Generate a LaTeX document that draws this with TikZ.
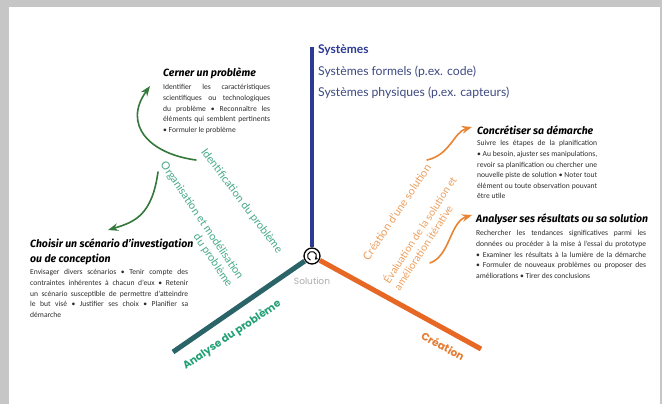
\documentclass[tikz,border=0pt]{standalone}
\usepackage{fontspec}
\setmainfont{Carlito}
\newfontfamily\headfont{Fira Sans}
\newfontfamily\axisfont{Poppins}
\newfontfamily\sysfont{Lato}
\usetikzlibrary{positioning,arrows.meta}

\definecolor{sysblue}{RGB}{44,58,148}
\definecolor{sysgray}{RGB}{62,74,130}
\definecolor{tealline}{RGB}{42,100,104}
\definecolor{tealtext}{RGB}{36,160,118}
\definecolor{greenlbl}{RGB}{70,170,135}
\definecolor{greenarr}{RGB}{52,120,60}
\definecolor{orline}{RGB}{230,104,36}
\definecolor{ortext}{RGB}{228,124,52}
\definecolor{orlbl}{RGB}{236,160,95}
\definecolor{orarr}{RGB}{232,132,50}
\definecolor{bodytext}{RGB}{45,45,45}

\begin{document}
\begin{tikzpicture}[x=1pt, y=-1pt, >=Stealth,
    headtext/.style={inner sep=0, anchor=north west, align=left,
      font=\headfont\bfseries\itshape\fontsize{10.5}{15}\selectfont},
    body/.style={inner sep=0, anchor=north west, align=justify, text=bodytext,
      font=\fontsize{7.6}{10.6}\selectfont},
    sysline/.style={inner sep=0, anchor=base west, text=sysgray,
      font=\sysfont\fontsize{12.2}{14}\selectfont},
    axislbl/.style={inner sep=0, font=\axisfont\bfseries\fontsize{10.5}{12}\selectfont},
    phase/.style={inner sep=0, font=\sysfont\fontsize{11}{13}\selectfont},
    axisline/.style={line width=5pt},
    curvarrow/.style={->, line width=1.6pt, line cap=round}]

  % page and shadow
  \fill[gray!45] (0,0) rectangle (662,404);
  \fill[white] (9,7) rectangle (660,404);
  \useasboundingbox (0,0) rectangle (662,404);

  % text blocks
  \node[headtext] (cerner) at (163,68) {Cerner un problème};
  \node[body, text width=107pt, below=5pt of cerner.south west, anchor=north west] (cernertxt)
    {Identifier les caractéristiques\linebreak scientifiques ou technologiques\linebreak
     du problème • Reconnaître les\linebreak éléments qui semblent pertinents\linebreak
     • Formuler le problème};

  \node[headtext] (choisir) at (30,239) {Choisir un scénario d’investigation\\ou de conception};
  \node[body, text width=158pt, below=4pt of choisir.south west, anchor=north west] (choisirtxt)
    {Envisager divers scénarios • Tenir compte des\linebreak contraintes inhérentes à chacun d’eux • Retenir\linebreak
     un scénario susceptible de permettre d’atteindre\linebreak le but visé • Justifier ses choix • Planifier sa\linebreak
     démarche};

  \node[headtext] (concret) at (477,126) {Concrétiser sa démarche};
  \node[body, text width=120pt, below=5pt of concret.south west, anchor=north west] (concrettxt)
    {Suivre les étapes de la planification\linebreak • Au besoin, ajuster ses manipulations,\linebreak
     revoir sa planification ou chercher une\linebreak nouvelle piste de solution • Noter tout\linebreak
     élément ou toute observation pouvant\linebreak être utile};

  \node[headtext] (analyser) at (476,214) {Analyser ses résultats ou sa solution};
  \node[body, text width=170pt, below=5pt of analyser.south west, anchor=north west] (analysertxt)
    {Rechercher les tendances significatives parmi les\linebreak données ou procéder à la mise à l’essai du prototype\linebreak
     • Examiner les résultats à la lumière de la démarche\linebreak • Formuler de nouveaux problèmes ou proposer des\linebreak
     améliorations • Tirer des conclusions};

  % systems
  \node[sysline, text=sysblue, font=\sysfont\bfseries\fontsize{12}{14}\selectfont] (sys) at (318,54) {Systèmes};
  \node[sysline] (sysform) at (318,76) {Systèmes formels (p.ex. code)};
  \node[sysline] (sysphys) at (318,97) {Systèmes physiques (p.ex. capteurs)};

  % hub and axes
  \node[circle, draw, line width=1.3pt, minimum size=16pt, inner sep=0, outer sep=1pt] (hub) at (312,256) {};
  \draw[line width=1pt, -{Stealth[length=3pt,width=4pt]}] (hub.center) ++(110:4.5)
    arc[start angle=110, end angle=410, radius=4.5];
  \node[inner sep=0, text=gray!65, font=\axisfont\fontsize{9}{11}\selectfont, below=12pt of hub] (sol) {Solution};

  \coordinate (systop) at (312,47);
  \coordinate (anaend) at (173,352);
  \coordinate (creend) at (481,349);
  \draw[axisline, sysblue, line width=4pt] (systop) -- (hub);
  \draw[axisline, tealline] (hub) -- (anaend);
  \draw[axisline, orline] (hub) -- (creend);

  \node[axislbl, text=tealtext, rotate=34] (ana) at (232,335) {Analyse du problème};
  \node[axislbl, text=ortext, rotate=-29] (cre) at (443,346) {Création};

  % phases
  \node[phase, text=greenlbl, rotate=-53, anchor=west] (ident) at (203,150) {Identification du problème};
  \node[phase, text=greenlbl, rotate=-56, anchor=north west, align=right] (orga) at (167,160)
    {Organisation et modélisation\\du problème};
  \node[phase, text=orlbl, rotate=56, anchor=west] (creat) at (365,259) {Création d’une solution};
  \node[phase, text=orlbl, rotate=57, anchor=north west, align=left,
    font=\sysfont\fontsize{10.5}{12.5}\selectfont] (evalu) at (381,279)
    {Évaluation de la solution et\\amélioration itérative};

  % curved arrows
  \coordinate (g1s) at (196,160);
  \coordinate (g1e) at (150,86);
  \coordinate (g2s) at (158,172);
  \coordinate (g2e) at (108,230);
  \coordinate (o1s) at (427,160);
  \coordinate (o1e) at (472,127);
  \coordinate (o2s) at (430,263);
  \coordinate (o2e) at (472,215);
  \draw[curvarrow, greenarr] (g1s) .. controls (150,154) and (122,125) .. (g1e);
  \draw[curvarrow, greenarr] (g2s) .. controls (152,215) and (135,222) .. (g2e);
  \draw[curvarrow, orarr] (o1s) .. controls (450,155) and (454,132) .. (o1e);
  \draw[curvarrow, orarr] (o2s) .. controls (450,256) and (450,222) .. (o2e);
\end{tikzpicture}
\end{document}
